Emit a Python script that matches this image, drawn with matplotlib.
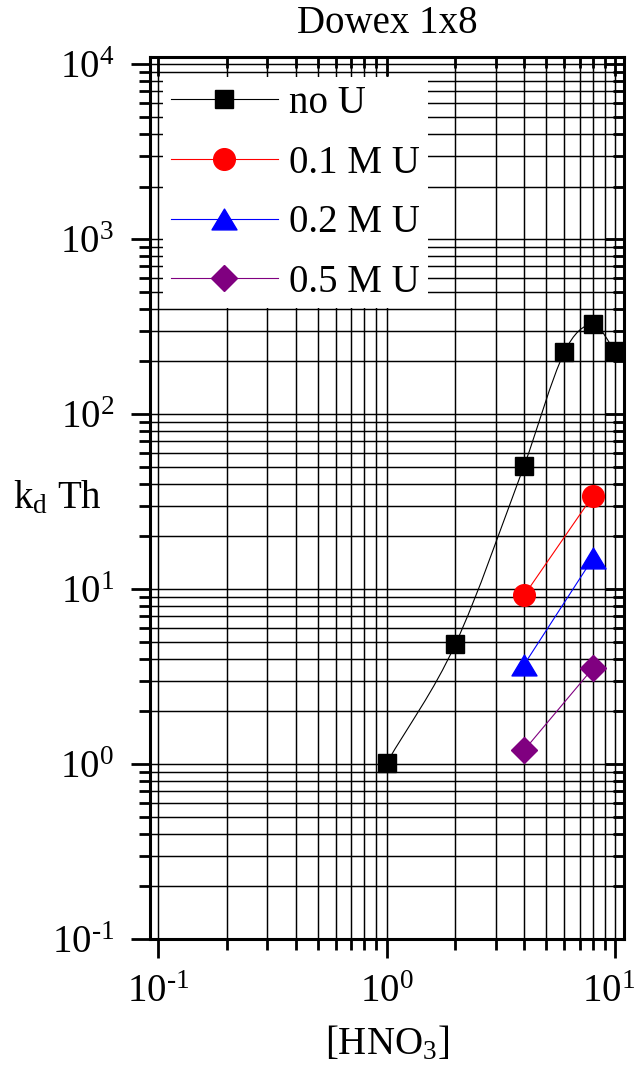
import numpy as np
import matplotlib
matplotlib.use('Agg')
import matplotlib.pyplot as plt
import matplotlib.transforms as mtransforms
from matplotlib.path import Path
from matplotlib.patches import PathPatch
from matplotlib.lines import Line2D
from matplotlib.ticker import LogLocator, FuncFormatter, NullFormatter

plt.rcParams['font.family'] = 'Liberation Serif'
plt.rcParams['mathtext.fontset'] = 'custom'
plt.rcParams['mathtext.rm'] = 'Liberation Serif'
plt.rcParams['mathtext.it'] = 'Liberation Serif:italic'
plt.rcParams['mathtext.default'] = 'regular'

# kd of Th on Dowex 1x8 vs HNO3 concentration
hno3_noU = [1, 2, 4, 6, 8, 10]
kd_noU = [1.01, 4.84, 50.8, 226, 326, 230]

hno3_U = [4, 8]
kd_01U = [9.2, 34.2]
kd_02U = [3.7, 15.0]
kd_05U = [1.20, 3.53]

labels = ['no U', '0.1 M U', '0.2 M U', '0.5 M U']


def spline_path(x, y):
    """Smooth Hermite curve through the points, built in log-log space."""
    lx, ly = np.log10(x), np.log10(y)
    n = len(lx)
    m = np.empty(n)
    m[0] = (ly[1] - ly[0]) / (lx[1] - lx[0])
    m[-1] = (ly[-1] - ly[-2]) / (lx[-1] - lx[-2])
    m[1:-1] = (ly[2:] - ly[:-2]) / (lx[2:] - lx[:-2])
    verts = [(lx[0], ly[0])]
    codes = [Path.MOVETO]
    for i in range(n - 1):
        h = (lx[i + 1] - lx[i]) / 3
        verts += [(lx[i] + h, ly[i] + m[i] * h),
                  (lx[i + 1] - h, ly[i + 1] - m[i + 1] * h),
                  (lx[i + 1], ly[i + 1])]
        codes += [Path.CURVE4] * 3
    return Path(10 ** np.array(verts), codes)


def pow10(v, pos):
    e = int(round(np.log10(v)))
    if e < 0:
        return r'$10^{\text{-}%d}$' % -e
    return r'$10^{%d}$' % e


# wide triangle marker
tri = Path([(-1.2, -1), (1.2, -1), (0, 1), (-1.2, -1)],
           [Path.MOVETO, Path.LINETO, Path.LINETO, Path.CLOSEPOLY])

xlim = (0.0923, 10.94)
ylim = (0.1, 1.1e4)
fs = 28

fig = plt.figure(figsize=(6.37, 10.75), dpi=100)
ax = fig.add_axes([0.2355, 0.1265, 0.7441, 0.8205])


def setup_log(a):
    a.set_xscale('log')
    a.set_yscale('log')
    a.set_xlim(*xlim)
    a.set_ylim(*ylim)
    for axis in (a.xaxis, a.yaxis):
        axis.set_major_locator(LogLocator(base=10, numticks=20))
        axis.set_minor_locator(LogLocator(base=10, subs=np.arange(2, 10), numticks=20))
        axis.set_minor_formatter(NullFormatter())


setup_log(ax)
ax.grid(True, which='both', color='k', lw=1.05)
ax.set_axisbelow(True)

ax.add_patch(PathPatch(spline_path(hno3_noU, kd_noU), fill=False,
                       ec='k', lw=0.8, zorder=2))
ax.plot(hno3_noU, kd_noU, ls='none', marker='s', ms=13, color='k', zorder=3)
l1, = ax.plot(hno3_U, kd_01U, color='#FF0000', lw=0.8, marker='o', ms=15.6, zorder=3)
l2, = ax.plot(hno3_U, kd_02U, color='#0000FF', lw=0.8, marker=tri, ms=18, zorder=3)
l3, = ax.plot(hno3_U, kd_05U, color='#800080', lw=0.8, marker='D', ms=13.5, zorder=3)
h0 = Line2D([], [], color='k', lw=0.8, marker='s', ms=13)

ax.xaxis.set_major_formatter(FuncFormatter(pow10))
ax.yaxis.set_major_formatter(FuncFormatter(pow10))
ax.tick_params(which='both', direction='out', width=2, labelsize=fs,
               top=False, right=False)
ax.tick_params(which='major', length=14)
ax.tick_params(which='minor', length=8)
ax.tick_params(axis='x', pad=11)
ax.tick_params(axis='y', pad=12)
for s in ax.spines.values():
    s.set_linewidth(2.2)

# mirrored inward ticks on top and right
ax2 = fig.add_axes(ax.get_position(), frameon=False)
setup_log(ax2)
ax2.xaxis.tick_top()
ax2.yaxis.tick_right()
ax2.tick_params(which='both', direction='in', width=2,
                labeltop=False, labelright=False)
ax2.tick_params(which='major', length=14)
ax2.tick_params(which='minor', length=8)

ax.legend([h0, l1, l2, l3], labels, loc='upper left',
          bbox_to_anchor=(0.027, 0.977), borderaxespad=0, frameon=True,
          fancybox=False, edgecolor='none', facecolor='white', framealpha=1,
          fontsize=fs, handlelength=2.75, handletextpad=0.3,
          labelspacing=0.58, borderpad=0.2, numpoints=1)

ax.set_title('Dowex 1x8', fontsize=fs, pad=17)
ax.set_xlabel('[HNO$_3$]', fontsize=fs, labelpad=10)
ax.set_ylabel('k$_d$ Th', fontsize=fs, rotation=0, va='center', ha='center')
ax.yaxis.set_label_coords(-0.196, 0.5)

# keep the last x label inside the figure
fig.canvas.draw()
last = ax.xaxis.get_major_ticks()
for t in last:
    if abs(t.get_loc() - 10) < 1e-6:
        t.label1.set_transform(t.label1.get_transform() +
                               mtransforms.ScaledTranslation(-5 / 72, 0, fig.dpi_scale_trans))

fig.savefig('out.png', dpi=100)
